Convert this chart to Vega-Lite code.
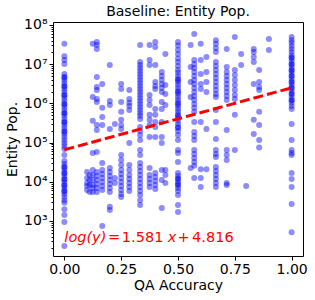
{
  "$schema": "https://vega.github.io/schema/vega-lite/v6.json",
  "width": 250,
  "height": 234,
  "autosize": {"type": "none"},
  "padding": {"left": 53, "top": 22, "right": 12, "bottom": 44},
  "background": "white",
  "config": {
    "font": "DejaVu Sans",
    "view": {"stroke": "black", "strokeWidth": 1},
    "axis": {
      "labelFont": "DejaVu Sans", "labelFontSize": 14, "labelColor": "black",
      "titleFont": "DejaVu Sans", "titleFontSize": 14, "titleFontWeight": "normal", "titleColor": "black",
      "tickColor": "black", "tickWidth": 1, "tickSize": 4, "domain": false, "grid": false,
      "labelPadding": 2, "labelFlush": false
    }
  },
  "title": {"text": "Baseline: Entity Pop.", "fontSize": 14, "fontWeight": "normal", "color": "black", "font": "DejaVu Sans", "offset": -1},
  "layer": [
    {
      "data": {"values": [
        {"acc":0,"pop":3.3e7},{"acc":0,"pop":1.6e7},{"acc":0,"pop":1.28e7},{"acc":0,"pop":1.01e7},{"acc":0,"pop":5.6e6},{"acc":0,"pop":4.7e6},{"acc":0,"pop":3.95e6},{"acc":0,"pop":3.3e6},{"acc":0,"pop":2.78e6},{"acc":0,"pop":2.33e6},{"acc":0,"pop":1.95e6},{"acc":0,"pop":1.64e6},{"acc":0,"pop":1.37e6},{"acc":0,"pop":1.15e6},{"acc":0,"pop":9.7e5},{"acc":0,"pop":8.1e5},{"acc":0,"pop":6.8e5},{"acc":0,"pop":5.7e5},{"acc":0,"pop":4.8e5},{"acc":0,"pop":4.0e5},{"acc":0,"pop":3.36e5},{"acc":0,"pop":2.8e5},{"acc":0,"pop":2.36e5},{"acc":0,"pop":1.98e5},{"acc":0,"pop":1.66e5},{"acc":0,"pop":1.39e5},{"acc":0,"pop":1.16e5},{"acc":0,"pop":9.8e4},{"acc":0,"pop":8.2e4},{"acc":0,"pop":6.9e4},{"acc":0,"pop":4.8e4},{"acc":0,"pop":3.4e4},{"acc":0,"pop":2.85e4},{"acc":0,"pop":2.4e4},{"acc":0,"pop":2.0e4},{"acc":0,"pop":1.68e4},{"acc":0,"pop":1.41e4},{"acc":0,"pop":1.18e4},{"acc":0,"pop":9.9e3},{"acc":0,"pop":8.3e3},{"acc":0,"pop":6.95e3},{"acc":0,"pop":5.8e3},{"acc":0,"pop":4.9e3},{"acc":0,"pop":4.1e3},{"acc":0,"pop":3.4e3},{"acc":0,"pop":2.9e3},{"acc":0,"pop":2.0e3},{"acc":0,"pop":1.42e3},{"acc":0,"pop":940},{"acc":0,"pop":230},
        {"acc":0,"pop":4.6e6},{"acc":0,"pop":2.7e6},{"acc":0,"pop":1.6e6},{"acc":0,"pop":9.5e5},{"acc":0,"pop":5.6e5},{"acc":0,"pop":3.3e5},{"acc":0,"pop":1.9e5},{"acc":0,"pop":2.35e4},{"acc":0,"pop":1.65e4},{"acc":0,"pop":1.15e4},{"acc":0,"pop":8.1e3},{"acc":0,"pop":5.7e3},
        {"acc":0.1,"pop":1.25e4},{"acc":0.1,"pop":9.3e3},{"acc":0.1,"pop":7.8e3},{"acc":0.1,"pop":1.78e4},{"acc":0.1,"pop":6.2e3},
        {"acc":0.1111,"pop":1.11e4},{"acc":0.1111,"pop":8.3e3},{"acc":0.1111,"pop":1.5e4},{"acc":0.1111,"pop":5.5e3},
        {"acc":0.125,"pop":3.3e7},{"acc":0.125,"pop":1.46e6},{"acc":0.125,"pop":3.6e5},{"acc":0.125,"pop":5.4e4},{"acc":0.125,"pop":1.5e4},{"acc":0.125,"pop":1.11e4},{"acc":0.125,"pop":8.3e3},{"acc":0.125,"pop":6.95e3},{"acc":0.125,"pop":2.0e4},{"acc":0.125,"pop":5.5e3},
        {"acc":0.1429,"pop":3.7e7},{"acc":0.1429,"pop":3.1e7},{"acc":0.1429,"pop":2.45e7},{"acc":0.1429,"pop":4.7e6},{"acc":0.1429,"pop":2.6e6},{"acc":0.1429,"pop":2.2e6},{"acc":0.1429,"pop":1.3e6},{"acc":0.1429,"pop":1.09e6},{"acc":0.1429,"pop":2.8e5},{"acc":0.1429,"pop":2.1e5},{"acc":0.1429,"pop":5.75e4},{"acc":0.1429,"pop":1.78e4},{"acc":0.1429,"pop":1.41e4},{"acc":0.1429,"pop":1.11e4},{"acc":0.1429,"pop":8.8e3},{"acc":0.1429,"pop":6.95e3},{"acc":0.1429,"pop":5.5e3},
        {"acc":0.1667,"pop":3.1e6},{"acc":0.1667,"pop":7.7e5},{"acc":0.1667,"pop":4.5e5},{"acc":0.1667,"pop":2.8e5},{"acc":0.1667,"pop":3.0e4},{"acc":0.1667,"pop":2.0e4},{"acc":0.1667,"pop":1.58e4},{"acc":0.1667,"pop":1.25e4},{"acc":0.1667,"pop":9.9e3},{"acc":0.1667,"pop":7.8e3},{"acc":0.1667,"pop":6.2e3},{"acc":0.1667,"pop":745},
        {"acc":0.2,"pop":9.5e6},{"acc":0.2,"pop":1.15e6},{"acc":0.2,"pop":9.1e5},{"acc":0.2,"pop":2.23e5},{"acc":0.2,"pop":2.25e4},{"acc":0.2,"pop":1.41e4},{"acc":0.2,"pop":1.11e4},{"acc":0.2,"pop":8.8e3},{"acc":0.2,"pop":6.95e3},{"acc":0.2,"pop":2.3e3},{"acc":0.2,"pop":1.9e3},{"acc":0.2,"pop":1.78e4},{"acc":0.2,"pop":5.5e3},
        {"acc":0.2222,"pop":3.0e5},{"acc":0.2222,"pop":1.25e4},{"acc":0.2222,"pop":9.3e3},
        {"acc":0.25,"pop":3.1e6},{"acc":0.25,"pop":2.33e6},{"acc":0.25,"pop":1.09e6},{"acc":0.25,"pop":6.1e5},{"acc":0.25,"pop":3.8e5},{"acc":0.25,"pop":2.8e5},{"acc":0.25,"pop":2.23e5},{"acc":0.25,"pop":4.8e4},{"acc":0.25,"pop":3.6e4},{"acc":0.25,"pop":2.7e4},{"acc":0.25,"pop":2.0e4},{"acc":0.25,"pop":1.58e4},{"acc":0.25,"pop":1.25e4},{"acc":0.25,"pop":9.9e3},{"acc":0.25,"pop":7.8e3},{"acc":0.25,"pop":6.2e3},{"acc":0.25,"pop":4.9e3},{"acc":0.25,"pop":4.1e3},
        {"acc":0.2857,"pop":2.2e6},{"acc":0.2857,"pop":1.3e6},{"acc":0.2857,"pop":1.03e6},{"acc":0.2857,"pop":8.6e5},{"acc":0.2857,"pop":6.8e5},{"acc":0.2857,"pop":9.8e4},{"acc":0.2857,"pop":2.7e4},{"acc":0.2857,"pop":2.0e4},{"acc":0.2857,"pop":1.5e4},{"acc":0.2857,"pop":1.18e4},{"acc":0.2857,"pop":9.3e3},{"acc":0.2857,"pop":7.4e3},{"acc":0.2857,"pop":5.8e3},
        {"acc":0.3333,"pop":3.1e7},{"acc":0.3333,"pop":1.14e7},{"acc":0.3333,"pop":9.5e6},{"acc":0.3333,"pop":8.0e6},{"acc":0.3333,"pop":6.7e6},{"acc":0.3333,"pop":5.6e6},{"acc":0.3333,"pop":4.7e6},{"acc":0.3333,"pop":3.95e6},{"acc":0.3333,"pop":3.3e6},{"acc":0.3333,"pop":2.78e6},{"acc":0.3333,"pop":2.33e6},{"acc":0.3333,"pop":1.95e6},{"acc":0.3333,"pop":1.64e6},{"acc":0.3333,"pop":1.37e6},{"acc":0.3333,"pop":1.15e6},{"acc":0.3333,"pop":9.7e5},{"acc":0.3333,"pop":8.1e5},{"acc":0.3333,"pop":6.8e5},{"acc":0.3333,"pop":5.7e5},{"acc":0.3333,"pop":4.8e5},{"acc":0.3333,"pop":4.0e5},{"acc":0.3333,"pop":2.5e5},{"acc":0.3333,"pop":1.98e5},{"acc":0.3333,"pop":1.57e5},{"acc":0.3333,"pop":1.16e5},{"acc":0.3333,"pop":6.5e4},{"acc":0.3333,"pop":4.8e4},{"acc":0.3333,"pop":3.0e4},{"acc":0.3333,"pop":2.4e4},{"acc":0.3333,"pop":1.88e4},{"acc":0.3333,"pop":1.5e4},{"acc":0.3333,"pop":1.18e4},{"acc":0.3333,"pop":9.3e3},{"acc":0.3333,"pop":7.4e3},{"acc":0.3333,"pop":5.8e3},{"acc":0.3333,"pop":4.6e3},{"acc":0.3333,"pop":3.4e3},{"acc":0.3333,"pop":2.55e3},
        {"acc":0.375,"pop":3.1e7},{"acc":0.375,"pop":1.28e7},{"acc":0.375,"pop":9.5e6},{"acc":0.375,"pop":1.64e6},{"acc":0.375,"pop":1.22e6},{"acc":0.375,"pop":9.1e5},{"acc":0.375,"pop":5.1e5},{"acc":0.375,"pop":3.8e5},{"acc":0.375,"pop":2.8e5},{"acc":0.375,"pop":1.39e5},{"acc":0.375,"pop":2.25e4},{"acc":0.375,"pop":1.5e4},{"acc":0.375,"pop":1.18e4},{"acc":0.375,"pop":9.3e3},{"acc":0.375,"pop":7.4e3},
        {"acc":0.4,"pop":3.7e7},{"acc":0.4,"pop":2.75e7},{"acc":0.4,"pop":9.5e6},{"acc":0.4,"pop":3.5e6},{"acc":0.4,"pop":2.78e6},{"acc":0.4,"pop":2.33e6},{"acc":0.4,"pop":7.2e5},{"acc":0.4,"pop":5.1e5},{"acc":0.4,"pop":3.36e5},{"acc":0.4,"pop":2.5e5},{"acc":0.4,"pop":1.39e5},{"acc":0.4,"pop":1.68e4},{"acc":0.4,"pop":1.33e4},{"acc":0.4,"pop":1.05e4},{"acc":0.4,"pop":8.3e3},{"acc":0.4,"pop":6.55e3},
        {"acc":0.4286,"pop":6.3e6},{"acc":0.4286,"pop":5.0e6},{"acc":0.4286,"pop":3.95e6},{"acc":0.4286,"pop":3.1e6},{"acc":0.4286,"pop":2.47e6},{"acc":0.4286,"pop":1.95e6},{"acc":0.4286,"pop":1.09e6},{"acc":0.4286,"pop":7.2e5},{"acc":0.4286,"pop":3.36e5},{"acc":0.4286,"pop":1.39e5},{"acc":0.4286,"pop":9.8e4},{"acc":0.4286,"pop":2.0e4},{"acc":0.4286,"pop":1.11e4},{"acc":0.4286,"pop":2.15e3},
        {"acc":0.4444,"pop":1.82e7},{"acc":0.4444,"pop":2.95e6},{"acc":0.4444,"pop":1.73e6},{"acc":0.4444,"pop":9.1e5},{"acc":0.4444,"pop":2.0e4},{"acc":0.4444,"pop":1.5e4},{"acc":0.4444,"pop":9.3e3},
        {"acc":0.5,"pop":3.7e7},{"acc":0.5,"pop":3.0e7},{"acc":0.5,"pop":2.3e7},{"acc":0.5,"pop":1.82e7},{"acc":0.5,"pop":1.4e7},{"acc":0.5,"pop":1.14e7},{"acc":0.5,"pop":9.0e6},{"acc":0.5,"pop":7.1e6},{"acc":0.5,"pop":6.0e6},{"acc":0.5,"pop":5.0e6},{"acc":0.5,"pop":4.2e6},{"acc":0.5,"pop":3.5e6},{"acc":0.5,"pop":2.95e6},{"acc":0.5,"pop":2.47e6},{"acc":0.5,"pop":2.07e6},{"acc":0.5,"pop":1.73e6},{"acc":0.5,"pop":1.46e6},{"acc":0.5,"pop":1.22e6},{"acc":0.5,"pop":1.03e6},{"acc":0.5,"pop":8.6e5},{"acc":0.5,"pop":7.2e5},{"acc":0.5,"pop":6.1e5},{"acc":0.5,"pop":5.1e5},{"acc":0.5,"pop":4.25e5},{"acc":0.5,"pop":3.6e5},{"acc":0.5,"pop":3.0e5},{"acc":0.5,"pop":2.5e5},{"acc":0.5,"pop":1.98e5},{"acc":0.5,"pop":1.57e5},{"acc":0.5,"pop":1.16e5},{"acc":0.5,"pop":6.5e4},{"acc":0.5,"pop":5.4e4},{"acc":0.5,"pop":3.2e4},{"acc":0.5,"pop":1.68e4},{"acc":0.5,"pop":1.41e4},{"acc":0.5,"pop":1.18e4},{"acc":0.5,"pop":9.9e3},{"acc":0.5,"pop":8.3e3},{"acc":0.5,"pop":6.95e3},{"acc":0.5,"pop":5.8e3},{"acc":0.5,"pop":4.6e3},{"acc":0.5,"pop":2.55e3},{"acc":0.5,"pop":1.7e3},
        {"acc":0.5,"pop":3.95e6},{"acc":0.5,"pop":1.95e6},{"acc":0.5,"pop":9.7e5},{"acc":0.5,"pop":4.8e5},{"acc":0.5,"pop":2.36e5},{"acc":0.5,"pop":1.2e4},{"acc":0.5,"pop":8.5e3},
        {"acc":0.5556,"pop":3.1e7},{"acc":0.5556,"pop":8.5e6},{"acc":0.5556,"pop":3.5e6},{"acc":0.5556,"pop":1.46e6},{"acc":0.5556,"pop":2.25e4},
        {"acc":0.5714,"pop":5.9e7},{"acc":0.5714,"pop":1.28e7},{"acc":0.5714,"pop":1.01e7},{"acc":0.5714,"pop":8.0e6},{"acc":0.5714,"pop":6.3e6},{"acc":0.5714,"pop":5.0e6},{"acc":0.5714,"pop":3.95e6},{"acc":0.5714,"pop":3.1e6},{"acc":0.5714,"pop":2.47e6},{"acc":0.5714,"pop":1.95e6},{"acc":0.5714,"pop":1.55e6},{"acc":0.5714,"pop":1.22e6},{"acc":0.5714,"pop":9.7e5},{"acc":0.5714,"pop":7.7e5},{"acc":0.5714,"pop":6.1e5},{"acc":0.5714,"pop":3.36e5},{"acc":0.5714,"pop":1.87e5},{"acc":0.5714,"pop":1.48e5},{"acc":0.5714,"pop":1.16e5},{"acc":0.5714,"pop":6.5e4},{"acc":0.5714,"pop":5.1e4},{"acc":0.5714,"pop":4.05e4},{"acc":0.5714,"pop":3.2e4},{"acc":0.5714,"pop":2.55e4},{"acc":0.5714,"pop":1.25e4},
        {"acc":0.6,"pop":3.3e7},{"acc":0.6,"pop":1.28e7},{"acc":0.6,"pop":5.6e6},{"acc":0.6,"pop":3.1e6},{"acc":0.6,"pop":2.33e6},{"acc":0.6,"pop":3.36e5},{"acc":0.6,"pop":2.1e4},{"acc":0.6,"pop":1.25e4},{"acc":0.6,"pop":7.4e3},
        {"acc":0.625,"pop":1.53e7},{"acc":0.625,"pop":6.3e6},{"acc":0.625,"pop":3.5e6},{"acc":0.625,"pop":1.95e6},{"acc":0.625,"pop":2.23e5},{"acc":0.625,"pop":2.1e4},
        {"acc":0.6667,"pop":4.1e7},{"acc":0.6667,"pop":3.3e7},{"acc":0.6667,"pop":2.6e7},{"acc":0.6667,"pop":2.05e7},{"acc":0.6667,"pop":1.14e7},{"acc":0.6667,"pop":9.0e6},{"acc":0.6667,"pop":7.1e6},{"acc":0.6667,"pop":5.6e6},{"acc":0.6667,"pop":4.45e6},{"acc":0.6667,"pop":3.5e6},{"acc":0.6667,"pop":2.78e6},{"acc":0.6667,"pop":2.2e6},{"acc":0.6667,"pop":1.73e6},{"acc":0.6667,"pop":1.46e6},{"acc":0.6667,"pop":6.8e5},{"acc":0.6667,"pop":3.36e5},{"acc":0.6667,"pop":1.24e5},{"acc":0.6667,"pop":6.5e4},{"acc":0.6667,"pop":5.1e4},{"acc":0.6667,"pop":4.3e4},{"acc":0.6667,"pop":2.4e4},{"acc":0.6667,"pop":1.88e4},{"acc":0.6667,"pop":1.5e4},{"acc":0.6667,"pop":1.18e4},{"acc":0.6667,"pop":9.3e3},{"acc":0.6667,"pop":7.4e3},
        {"acc":0.7143,"pop":2.45e7},{"acc":0.7143,"pop":8.5e6},{"acc":0.7143,"pop":6.3e6},{"acc":0.7143,"pop":5.0e6},{"acc":0.7143,"pop":3.95e6},{"acc":0.7143,"pop":3.1e6},{"acc":0.7143,"pop":2.47e6},{"acc":0.7143,"pop":1.95e6},{"acc":0.7143,"pop":1.55e6},{"acc":0.7143,"pop":1.22e6},{"acc":0.7143,"pop":2.1e5},{"acc":0.7143,"pop":6.5e4},{"acc":0.7143,"pop":4.8e4},{"acc":0.7143,"pop":3.6e4},{"acc":0.7143,"pop":9.3e3},{"acc":0.7143,"pop":8.3e3},
        {"acc":0.75,"pop":4.9e7},{"acc":0.75,"pop":7.1e6},{"acc":0.75,"pop":5.3e6},{"acc":0.75,"pop":3.95e6},{"acc":0.75,"pop":2.95e6},{"acc":0.75,"pop":2.2e6},{"acc":0.75,"pop":1.64e6},{"acc":0.75,"pop":1.3e6},{"acc":0.75,"pop":5.1e5},{"acc":0.75,"pop":6.5e4},
        {"acc":0.7778,"pop":1.82e7},{"acc":0.7778,"pop":9.5e6},
        {"acc":0.8,"pop":7.8e3},
        {"acc":0.8333,"pop":2.45e7},{"acc":0.8333,"pop":2.05e7},{"acc":0.8333,"pop":1.53e7},{"acc":0.8333,"pop":1.14e7},{"acc":0.8333,"pop":3.1e6},{"acc":0.8333,"pop":3.8e5},{"acc":0.8333,"pop":1.66e5},
        {"acc":0.8571,"pop":7.1e6},{"acc":0.8571,"pop":3.5e6},{"acc":0.8571,"pop":2.6e6},{"acc":0.8571,"pop":2.2e6},{"acc":0.8571,"pop":6.1e5},{"acc":0.8571,"pop":2.8e5},{"acc":0.8571,"pop":1.16e5},{"acc":0.8571,"pop":7.5e4},
        {"acc":0.9,"pop":4.4e7},{"acc":0.9,"pop":2.3e7},
        {"acc":1,"pop":4.9e7},{"acc":1,"pop":4.1e7},{"acc":1,"pop":3.5e7},{"acc":1,"pop":2.9e7},{"acc":1,"pop":2.45e7},{"acc":1,"pop":2.05e7},{"acc":1,"pop":1.7e7},{"acc":1,"pop":1.44e7},{"acc":1,"pop":1.2e7},{"acc":1,"pop":1.01e7},{"acc":1,"pop":8.5e6},{"acc":1,"pop":7.1e6},{"acc":1,"pop":6.0e6},{"acc":1,"pop":5.0e6},{"acc":1,"pop":4.2e6},{"acc":1,"pop":3.5e6},{"acc":1,"pop":2.95e6},{"acc":1,"pop":2.47e6},{"acc":1,"pop":2.07e6},{"acc":1,"pop":1.73e6},{"acc":1,"pop":1.46e6},{"acc":1,"pop":1.22e6},{"acc":1,"pop":1.03e6},{"acc":1,"pop":8.6e5},{"acc":1,"pop":7.2e5},{"acc":1,"pop":3.0e5},{"acc":1,"pop":1.16e5},{"acc":1,"pop":6.5e4},{"acc":1,"pop":5.4e4},{"acc":1,"pop":4.8e4},{"acc":1,"pop":1.68e4},{"acc":1,"pop":1.18e4},{"acc":1,"pop":7.4e3},{"acc":1,"pop":2.7e3},{"acc":1,"pop":520},
        {"acc":1,"pop":1.45e7},{"acc":1,"pop":1.0e7},{"acc":1,"pop":7.0e6},{"acc":1,"pop":5.0e6},{"acc":1,"pop":3.5e6},{"acc":1,"pop":2.5e6},{"acc":1,"pop":1.75e6},{"acc":1,"pop":1.2e6}
      ]},
      "mark": {"type": "circle", "size": 36, "color": "#0000ff", "opacity": 0.45},
      "encoding": {
        "x": {"field": "acc", "type": "quantitative", "scale": {"domain": [-0.05, 1.05], "nice": false, "zero": false},
          "axis": {"title": "QA Accuracy", "values": [0, 0.25, 0.5, 0.75, 1], "format": ".2f", "titlePadding": 2}},
        "y": {"field": "pop", "type": "quantitative", "scale": {"type": "log", "domain": [128, 1.19e8], "nice": false},
          "axis": {"title": "Entity Pop.", "titlePadding": 4,
            "values": [200,300,400,500,600,700,800,900,1000,2000,3000,4000,5000,6000,7000,8000,9000,10000,20000,30000,40000,50000,60000,70000,80000,90000,100000,200000,300000,400000,500000,600000,700000,800000,900000,1000000,2000000,3000000,4000000,5000000,6000000,7000000,8000000,9000000,10000000,20000000,30000000,40000000,50000000,60000000,70000000,80000000,90000000,100000000],
            "labelExpr": "indexof([1000,10000,100000,1000000,10000000,100000000], datum.value) >= 0 ? '10' + ['⁰','¹','²','³','⁴','⁵','⁶','⁷','⁸','⁹'][round(log(datum.value)/LN10)] : ''",
            "tickSize": {"condition": {"test": "indexof([1000,10000,100000,1000000,10000000,100000000], datum.value) >= 0", "value": 4}, "value": 2}}}
      }
    },
    {
      "data": {"values": [{"acc": 0, "pop": 65464}, {"acc": 1, "pop": 2494595}]},
      "mark": {"type": "line", "color": "red", "strokeWidth": 3, "strokeDash": [10, 4]},
      "encoding": {"x": {"field": "acc", "type": "quantitative"}, "y": {"field": "pop", "type": "quantitative"}}
    },
    {
      "data": {"values": [{"acc": 0.0, "pop": 296, "t": "log(y)"}, {"acc": 0.455, "pop": 296, "t": "x"}]},
      "mark": {"type": "text", "align": "left", "baseline": "alphabetic", "fontSize": 14.5, "fontStyle": "italic", "color": "red", "font": "DejaVu Sans"},
      "encoding": {"x": {"field": "acc", "type": "quantitative"}, "y": {"field": "pop", "type": "quantitative"}, "text": {"field": "t"}}
    },
    {
      "data": {"values": [{"acc": 0.192, "pop": 296, "t": "="}, {"acc": 0.253, "pop": 296, "t": "1.581"}, {"acc": 0.498, "pop": 296, "t": "+"}, {"acc": 0.562, "pop": 296, "t": "4.816"}]},
      "mark": {"type": "text", "align": "left", "baseline": "alphabetic", "fontSize": 14.5, "color": "red", "font": "DejaVu Sans"},
      "encoding": {"x": {"field": "acc", "type": "quantitative"}, "y": {"field": "pop", "type": "quantitative"}, "text": {"field": "t"}}
    }
  ]
}
